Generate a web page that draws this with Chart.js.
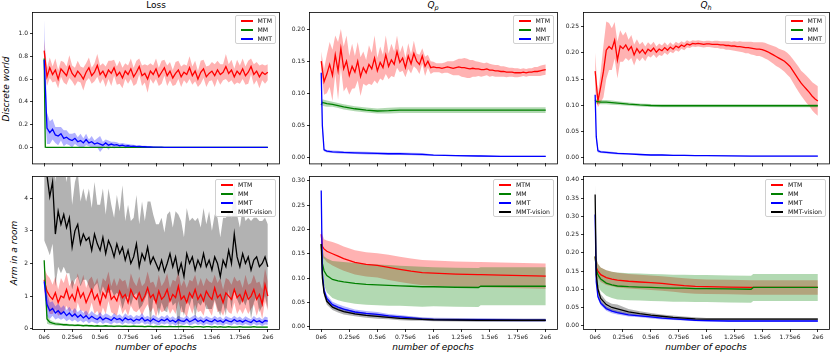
<!DOCTYPE html>
<html>
<head>
<meta charset="utf-8">
<script src="https://cdn.jsdelivr.net/npm/chart.js@4.4.1/dist/chart.umd.min.js"></script>
<style>
  html, body { margin: 0; padding: 0; background: #fff; }
  body { width: 830px; height: 353px; position: relative; overflow: hidden; font-family: "DejaVu Sans", sans-serif; color: #000; }
  canvas { position: absolute; }
  .title { position: absolute; top: 0; font-size: 9px; line-height: 10px; white-space: nowrap; transform: translateX(-50%); }
  .title sub { font-size: 6.5px; vertical-align: -2px; }
  .ylab { position: absolute; font-size: 9px; font-style: italic; white-space: nowrap; transform: translate(-50%, -50%) rotate(-90deg); }
  .xlab { position: absolute; top: 342px; font-size: 9px; line-height: 11px; font-style: italic; white-space: nowrap; transform: translateX(-50%); }
  .legend { position: absolute; background: rgba(255,255,255,0.85); border: 1px solid #d0d0d0; border-radius: 2px; padding: 0 3px 0 5px; font-size: 6.2px; color: #111; }
  .legend div { position: relative; height: 9px; line-height: 9px; padding-left: 17px; white-space: nowrap; }
  .legend span { position: absolute; left: 0; top: 4px; width: 12px; height: 1px; border-bottom: 0.5px solid transparent; }
</style>
</head>
<body>

<div class="title" style="left:156px">Loss</div>
<div class="title" style="left:433px"><i>Q</i><sub><i>p</i></sub></div>
<div class="title" style="left:706px"><i>Q</i><sub><i>h</i></sub></div>

<div class="ylab" style="left:5.5px; top:88.5px">Discrete world</div>
<div class="ylab" style="left:13.5px; top:253px">Arm in a room</div>

<div class="xlab" style="left:156px">number of epochs</div>
<div class="xlab" style="left:433px">number of epochs</div>
<div class="xlab" style="left:706px">number of epochs</div>

<script>
// x positions, in millions of epochs
const EPOCHS = [
  0, 0.025, 0.05, 0.075, 0.1, 0.125, 0.15, 0.175, 0.2, 0.225,
  0.25, 0.275, 0.3, 0.325, 0.35, 0.375, 0.4, 0.425, 0.45, 0.475,
  0.5, 0.525, 0.55, 0.575, 0.6, 0.625, 0.65, 0.675, 0.7, 0.725,
  0.75, 0.775, 0.8, 0.825, 0.85, 0.875, 0.9, 0.925, 0.95, 0.975,
  1, 1.025, 1.05, 1.075, 1.1, 1.125, 1.15, 1.175, 1.2, 1.225,
  1.25, 1.275, 1.3, 1.325, 1.35, 1.375, 1.4, 1.425, 1.45, 1.475,
  1.5, 1.525, 1.55, 1.575, 1.6, 1.625, 1.65, 1.675, 1.7, 1.725,
  1.75, 1.775, 1.8, 1.825, 1.85, 1.875, 1.9, 1.925, 1.95, 1.975,
  2
];
// coarser x positions for the smooth curves
const EPOCHS_SMOOTH = [0, 0.01, 0.025, 0.05, 0.1, 0.15, 0.2, 0.3, 0.4, 0.5, 0.6, 0.7, 0.8, 0.9, 1.0, 1.2, 1.4, 1.42, 1.6, 1.8, 2.0];

const X_TICKS = [0, 0.25, 0.5, 0.75, 1, 1.25, 1.5, 1.75, 2];
const X_TICK_LABELS = ['0e6', '0.25e6', '0.5e6', '0.75e6', '1e6', '1.25e6', '1.5e6', '1.75e6', '2e6'];

const SERIES_NAMES = ['MTM', 'MM', 'MMT', 'MMT-vision'];

// ---- Discrete world: Loss
const LOSS_DW_TICKS = [0, 0.2, 0.4, 0.6, 0.8, 1.0];
const LOSS_DW_MTM = [
  0.85, 0.62, 0.70, 0.64, 0.68, 0.60, 0.69, 0.66, 0.63, 0.71,
  0.65, 0.62, 0.67, 0.64, 0.60, 0.66, 0.70, 0.63, 0.66, 0.72,
  0.64, 0.67, 0.62, 0.68, 0.65, 0.70, 0.63, 0.66, 0.61, 0.67,
  0.64, 0.69, 0.62, 0.66, 0.71, 0.63, 0.65, 0.60, 0.67, 0.64,
  0.69, 0.62, 0.66, 0.70, 0.63, 0.67, 0.61, 0.65, 0.68, 0.62,
  0.66, 0.64, 0.70, 0.63, 0.67, 0.60, 0.66, 0.69, 0.62, 0.65,
  0.67, 0.63, 0.68, 0.64, 0.66, 0.71, 0.65, 0.68, 0.62, 0.67,
  0.64, 0.69, 0.63, 0.66, 0.71, 0.64, 0.67, 0.62, 0.66, 0.64,
  0.66
];
const LOSS_DW_MTM_SD = [
  0.10, 0.08, 0.09, 0.07, 0.10, 0.08, 0.07, 0.09, 0.08, 0.10,
  0.07, 0.08, 0.09, 0.07, 0.10, 0.08, 0.09, 0.07, 0.08, 0.10,
  0.08, 0.07, 0.09, 0.08, 0.11, 0.07, 0.08, 0.10, 0.09, 0.07,
  0.08, 0.09, 0.08, 0.10, 0.07, 0.09, 0.08, 0.12, 0.07, 0.08,
  0.09, 0.08, 0.10, 0.07, 0.09, 0.08, 0.07, 0.10, 0.08, 0.09,
  0.07, 0.08, 0.10, 0.08, 0.09, 0.07, 0.10, 0.08, 0.09, 0.07,
  0.08, 0.10, 0.08, 0.09, 0.07, 0.11, 0.08, 0.09, 0.07, 0.10,
  0.08, 0.09, 0.08, 0.10, 0.07, 0.09, 0.08, 0.10, 0.07, 0.08,
  0.07
];
const LOSS_DW_MM = [0.78, 0.003, 0.001, 0, 0, 0, 0, 0, 0, 0, 0, 0, 0, 0, 0, 0, 0, 0, 0, 0, 0];
const LOSS_DW_MM_SD = [0.03, 0.003, 0.001, 0.001, 0.001, 0.001, 0.001, 0.001, 0.001, 0.001, 0.001, 0.001, 0.001, 0.001, 0.001, 0.001, 0.001, 0.001, 0.001, 0.001, 0.001];
const LOSS_DW_MMT = [
  0.77, 0.17, 0.13, 0.16, 0.11, 0.10, 0.12, 0.08, 0.09, 0.07,
  0.06, 0.08, 0.05, 0.06, 0.04, 0.07, 0.04, 0.05, 0.03, 0.04,
  0.03, 0.02, 0.04, 0.02, 0.03, 0.02, 0.025, 0.015, 0.02, 0.012,
  0.015, 0.01, 0.012, 0.008, 0.01, 0.006, 0.006, 0.004, 0.004, 0.003,
  0.002, 0.002, 0.002, 0.001, 0.001, 0.001, 0.001, 0.001, 0.001, 0.001,
  0, 0, 0, 0, 0, 0, 0, 0, 0, 0,
  0, 0, 0, 0, 0, 0, 0, 0, 0, 0,
  0, 0, 0, 0, 0, 0, 0, 0, 0, 0,
  0
];
const LOSS_DW_MMT_SD = [
  0.35, 0.14, 0.10, 0.09, 0.07, 0.08, 0.06, 0.07, 0.06, 0.05,
  0.06, 0.05, 0.04, 0.06, 0.04, 0.05, 0.03, 0.05, 0.03, 0.04,
  0.07, 0.03, 0.03, 0.04, 0.02, 0.03, 0.02, 0.02, 0.02, 0.02,
  0.015, 0.015, 0.012, 0.012, 0.01, 0.01, 0.008, 0.008, 0.006, 0.005,
  0.004, 0.003, 0.003, 0.003, 0.003, 0.002, 0.002, 0.002, 0.002, 0.002,
  0.002, 0.002, 0.002, 0.002, 0.002, 0.002, 0.002, 0.002, 0.002, 0.002,
  0.002, 0.002, 0.002, 0.002, 0.002, 0.002, 0.002, 0.002, 0.002, 0.002,
  0.002, 0.002, 0.002, 0.002, 0.002, 0.002, 0.002, 0.002, 0.002, 0.002,
  0.002
];

// ---- Discrete world: Qp
const QP_DW_TICKS = [0, 0.05, 0.10, 0.15, 0.20];
const QP_DW_MTM = [
  0.150, 0.118, 0.130, 0.145, 0.128, 0.160, 0.135, 0.170, 0.138, 0.150,
  0.128, 0.142, 0.133, 0.150, 0.126, 0.140, 0.132, 0.145, 0.138, 0.155,
  0.135, 0.148, 0.140, 0.160, 0.142, 0.152, 0.145, 0.165, 0.148, 0.155,
  0.140, 0.158, 0.146, 0.162, 0.150, 0.145, 0.158, 0.142, 0.150, 0.140,
  0.141, 0.140, 0.140, 0.139, 0.140, 0.141, 0.140, 0.139, 0.140, 0.141,
  0.140, 0.140, 0.139, 0.138, 0.139, 0.138, 0.138, 0.137, 0.137, 0.138,
  0.136, 0.136, 0.135, 0.135, 0.134, 0.134, 0.133, 0.133, 0.133, 0.132,
  0.132, 0.132, 0.133, 0.132, 0.133, 0.133, 0.134, 0.134, 0.135, 0.136,
  0.137
];
const QP_DW_MTM_SD = [
  0.015, 0.02, 0.03, 0.035, 0.04, 0.03, 0.045, 0.03, 0.035, 0.04,
  0.03, 0.035, 0.025, 0.03, 0.03, 0.025, 0.02, 0.03, 0.025, 0.035,
  0.02, 0.025, 0.02, 0.03, 0.02, 0.025, 0.02, 0.025, 0.015, 0.02,
  0.015, 0.02, 0.015, 0.02, 0.012, 0.015, 0.012, 0.015, 0.01, 0.01,
  0.008, 0.007, 0.007, 0.008, 0.008, 0.009, 0.01, 0.011, 0.012, 0.013,
  0.014, 0.015, 0.015, 0.014, 0.013, 0.012, 0.011, 0.011, 0.01, 0.01,
  0.01, 0.009, 0.009, 0.009, 0.008, 0.008, 0.008, 0.007, 0.007, 0.007,
  0.007, 0.006, 0.006, 0.006, 0.006, 0.006, 0.007, 0.007, 0.008, 0.008,
  0.008
];
const QP_DW_MM = [0.082, 0.086, 0.085, 0.084, 0.083, 0.081, 0.079, 0.076, 0.074, 0.0725, 0.073, 0.074, 0.074, 0.074, 0.074, 0.074, 0.074, 0.074, 0.074, 0.074, 0.074];
const QP_DW_MM_SD = [0.005, 0.005, 0.005, 0.005, 0.004, 0.004, 0.004, 0.004, 0.004, 0.004, 0.0045, 0.0045, 0.0045, 0.0045, 0.0045, 0.0045, 0.0045, 0.0045, 0.0045, 0.0045, 0.0045];
const QP_DW_MMT = [0.132, 0.05, 0.012, 0.010, 0.009, 0.0085, 0.008, 0.0075, 0.007, 0.0065, 0.006, 0.006, 0.0055, 0.005, 0.004, 0.003, 0.0025, 0.0025, 0.002, 0.002, 0.002];
const QP_DW_MMT_SD = [0.03, 0.01, 0.002, 0.002, 0.002, 0.002, 0.002, 0.002, 0.002, 0.002, 0.002, 0.002, 0.002, 0.002, 0.001, 0.001, 0.001, 0.001, 0.001, 0.001, 0.001];

// ---- Discrete world: Qh
const QH_DW_TICKS = [0, 0.05, 0.10, 0.15, 0.20, 0.25];
const QH_DW_MTM = [
  0.165, 0.108, 0.135, 0.165, 0.205, 0.212, 0.207, 0.224, 0.186, 0.213,
  0.208, 0.215, 0.205, 0.212, 0.196, 0.208, 0.200, 0.206, 0.198, 0.207,
  0.203, 0.209, 0.201, 0.207, 0.204, 0.210, 0.205, 0.211, 0.207, 0.213,
  0.210, 0.215, 0.212, 0.217, 0.215, 0.218, 0.217, 0.218, 0.217, 0.216,
  0.217, 0.217, 0.216, 0.216, 0.216, 0.215, 0.215, 0.214, 0.214, 0.213,
  0.213, 0.212, 0.212, 0.211, 0.210, 0.210, 0.209, 0.208, 0.207, 0.207,
  0.206, 0.204, 0.202, 0.199, 0.196, 0.193, 0.190, 0.187, 0.184, 0.179,
  0.174, 0.166, 0.158, 0.150, 0.142, 0.136, 0.130, 0.124, 0.117, 0.112,
  0.108
];
const QH_DW_MTM_SD = [
  0.035, 0.012, 0.03, 0.05, 0.055, 0.045, 0.04, 0.035, 0.035, 0.03,
  0.025, 0.025, 0.02, 0.022, 0.02, 0.018, 0.016, 0.015, 0.014, 0.013,
  0.012, 0.012, 0.011, 0.011, 0.01, 0.01, 0.009, 0.009, 0.008, 0.008,
  0.008, 0.007, 0.007, 0.007, 0.006, 0.006, 0.006, 0.006, 0.006, 0.006,
  0.006, 0.006, 0.006, 0.007, 0.007, 0.007, 0.007, 0.008, 0.008, 0.008,
  0.009, 0.009, 0.01, 0.01, 0.011, 0.011, 0.012, 0.012, 0.013, 0.013,
  0.014, 0.015, 0.015, 0.016, 0.017, 0.018, 0.018, 0.019, 0.02, 0.021,
  0.021, 0.022, 0.023, 0.024, 0.024, 0.025, 0.026, 0.026, 0.027, 0.028,
  0.028
];
const QH_DW_MM = [0.110, 0.107, 0.107, 0.106, 0.106, 0.105, 0.104, 0.102, 0.1005, 0.0995, 0.099, 0.099, 0.099, 0.099, 0.099, 0.099, 0.099, 0.099, 0.099, 0.099, 0.099];
const QH_DW_MM_SD = [0.004, 0.004, 0.004, 0.004, 0.004, 0.004, 0.0035, 0.003, 0.003, 0.003, 0.003, 0.003, 0.003, 0.003, 0.003, 0.003, 0.003, 0.003, 0.003, 0.003, 0.003];
const QH_DW_MMT = [0.12, 0.04, 0.013, 0.011, 0.010, 0.009, 0.008, 0.007, 0.006, 0.005, 0.005, 0.0045, 0.0045, 0.004, 0.004, 0.0035, 0.003, 0.003, 0.003, 0.003, 0.003];
const QH_DW_MMT_SD = [0.02, 0.01, 0.003, 0.002, 0.002, 0.002, 0.002, 0.0015, 0.0015, 0.0015, 0.0015, 0.001, 0.001, 0.001, 0.001, 0.001, 0.001, 0.001, 0.001, 0.001, 0.001];

// ---- Arm in a room: Loss
const LOSS_ARM_TICKS = [0, 1, 2, 3, 4];
const LOSS_ARM_MTM = [
  1.5, 1.15, 1.0, 0.9, 1.1, 0.8, 1.0, 0.95, 1.2, 0.9,
  1.05, 0.85, 1.25, 0.95, 1.1, 0.8, 1.0, 1.2, 0.9, 1.05,
  0.75, 1.1, 0.95, 1.3, 0.9, 1.0, 0.85, 1.15, 0.95, 1.05,
  0.8, 1.2, 1.0, 0.9, 1.1, 0.85, 1.0, 1.25, 0.95, 1.05,
  0.8, 1.15, 0.9, 1.0, 1.2, 0.85, 1.05, 0.95, 1.3, 0.9,
  1.0, 0.8, 1.1, 0.95, 1.2, 0.9, 1.05, 0.85, 1.15, 1.0,
  0.9, 1.25, 0.95, 1.05, 0.8, 1.1, 1.0, 0.9, 1.2, 0.95,
  1.05, 0.85, 1.15, 0.9, 1.0, 1.2, 0.9, 1.05, 0.75, 1.35,
  1.0
];
const LOSS_ARM_MTM_SD = [
  0.35, 0.5, 0.55, 0.45, 0.5, 0.4, 0.55, 0.45, 0.5, 0.4,
  0.45, 0.5, 0.45, 0.4, 0.55, 0.45, 0.5, 0.4, 0.45, 0.5,
  0.4, 0.45, 0.5, 0.45, 0.4, 0.55, 0.45, 0.4, 0.5, 0.45,
  0.4, 0.5, 0.45, 0.4, 0.5, 0.45, 0.4, 0.5, 0.45, 0.4,
  0.45, 0.5, 0.4, 0.45, 0.5, 0.4, 0.45, 0.5, 0.45, 0.4,
  0.5, 0.45, 0.4, 0.5, 0.45, 0.4, 0.5, 0.45, 0.4, 0.45,
  0.5, 0.4, 0.45, 0.5, 0.4, 0.45, 0.5, 0.45, 0.4, 0.5,
  0.45, 0.4, 0.5, 0.45, 0.4, 0.45, 0.5, 0.4, 0.45, 0.5,
  0.45
];
const LOSS_ARM_MM = [
  2.1, 0.3, 0.2, 0.17, 0.15, 0.14, 0.13, 0.12, 0.12, 0.11,
  0.11, 0.10, 0.11, 0.10, 0.09, 0.10, 0.09, 0.09, 0.08, 0.09,
  0.08, 0.08, 0.09, 0.08, 0.08, 0.07, 0.08, 0.08, 0.07, 0.08,
  0.07, 0.07, 0.08, 0.07, 0.07, 0.07, 0.06, 0.07, 0.07, 0.06,
  0.07, 0.06, 0.07, 0.06, 0.06, 0.07, 0.06, 0.06, 0.06, 0.07,
  0.06, 0.06, 0.06, 0.05, 0.06, 0.06, 0.06, 0.05, 0.06, 0.06,
  0.05, 0.06, 0.05, 0.06, 0.05, 0.05, 0.06, 0.05, 0.05, 0.05,
  0.06, 0.05, 0.05, 0.05, 0.05, 0.06, 0.05, 0.05, 0.05, 0.05,
  0.05
];
const LOSS_ARM_MM_SD = [
  0.1, 0.15, 0.08, 0.06, 0.05, 0.05, 0.04, 0.04, 0.04, 0.035,
  0.035, 0.03, 0.035, 0.03, 0.03, 0.03, 0.03, 0.03, 0.025, 0.03,
  0.025, 0.025, 0.025, 0.025, 0.025, 0.025, 0.025, 0.025, 0.025, 0.025,
  0.025, 0.025, 0.025, 0.025, 0.025, 0.025, 0.025, 0.025, 0.025, 0.025,
  0.02, 0.02, 0.02, 0.02, 0.02, 0.02, 0.02, 0.02, 0.02, 0.02,
  0.02, 0.02, 0.02, 0.02, 0.02, 0.02, 0.02, 0.02, 0.02, 0.02,
  0.02, 0.02, 0.02, 0.02, 0.02, 0.02, 0.02, 0.02, 0.02, 0.02,
  0.02, 0.02, 0.02, 0.02, 0.02, 0.02, 0.02, 0.02, 0.02, 0.02,
  0.02
];
const LOSS_ARM_MMT = [
  1.45, 0.75, 0.55, 0.62, 0.48, 0.55, 0.45, 0.52, 0.40, 0.48,
  0.38, 0.45, 0.35, 0.42, 0.33, 0.40, 0.30, 0.38, 0.32, 0.28,
  0.36, 0.27, 0.33, 0.30, 0.25, 0.34, 0.28, 0.31, 0.24, 0.33,
  0.27, 0.30, 0.23, 0.29, 0.26, 0.34, 0.24, 0.28, 0.22, 0.30,
  0.25, 0.21, 0.28, 0.24, 0.30, 0.22, 0.26, 0.20, 0.28, 0.24,
  0.22, 0.29, 0.21, 0.25, 0.30, 0.22, 0.26, 0.20, 0.27, 0.23,
  0.21, 0.28, 0.22, 0.25, 0.19, 0.27, 0.23, 0.21, 0.28, 0.22,
  0.25, 0.20, 0.26, 0.22, 0.19, 0.27, 0.21, 0.24, 0.18, 0.25,
  0.23
];
const LOSS_ARM_MMT_SD = [
  0.3, 0.35, 0.25, 0.22, 0.2, 0.22, 0.18, 0.2, 0.17, 0.19,
  0.16, 0.18, 0.15, 0.17, 0.15, 0.16, 0.14, 0.16, 0.14, 0.13,
  0.15, 0.13, 0.14, 0.13, 0.12, 0.14, 0.12, 0.13, 0.12, 0.14,
  0.12, 0.13, 0.11, 0.13, 0.12, 0.14, 0.11, 0.12, 0.11, 0.13,
  0.12, 0.11, 0.12, 0.11, 0.13, 0.11, 0.12, 0.11, 0.12, 0.11,
  0.11, 0.12, 0.11, 0.12, 0.13, 0.11, 0.12, 0.11, 0.12, 0.11,
  0.11, 0.12, 0.11, 0.12, 0.1, 0.12, 0.11, 0.11, 0.12, 0.11,
  0.12, 0.1, 0.12, 0.11, 0.1, 0.12, 0.11, 0.11, 0.1, 0.12,
  0.11
];
const LOSS_ARM_VISION = [
  5.2, 4.7, 4.05, 4.5, 2.9, 3.6, 3.2, 3.5, 3.1, 3.4,
  2.5, 3.0, 3.2, 2.6, 2.9, 2.7, 2.8, 2.4, 2.9, 2.6,
  2.4, 2.8, 2.3, 2.7, 2.5, 2.2, 2.6, 2.3, 2.5, 2.1,
  2.4, 2.0, 2.2, 2.6, 1.9, 2.3, 2.1, 2.5, 2.0, 2.2,
  2.0, 1.8, 2.1, 1.75, 2.0, 2.3, 1.9, 2.2, 1.7, 2.0,
  1.6, 2.3, 2.0, 2.2, 1.8, 2.1, 1.9, 2.3, 1.9, 2.1,
  1.8, 2.2, 2.0, 1.6, 2.1, 1.9, 2.4, 2.0, 2.9, 2.2,
  1.9, 2.3, 2.0, 2.2, 1.8, 2.1, 2.2, 1.9, 2.0, 2.2,
  1.9
];
const LOSS_ARM_VISION_SD = [
  2.5, 2.2, 1.8, 1.9, 1.6, 1.7, 1.5, 1.6, 1.4, 1.7,
  1.3, 1.5, 1.6, 1.3, 1.4, 1.2, 1.5, 1.3, 1.6, 1.2,
  1.4, 1.5, 1.2, 1.6, 1.3, 1.2, 1.5, 1.3, 1.9, 1.2,
  1.4, 1.3, 1.2, 1.5, 1.3, 1.6, 1.2, 1.4, 1.9, 1.3,
  1.2, 1.4, 1.3, 1.2, 1.5, 1.3, 1.2, 1.4, 1.8, 1.3,
  1.2, 1.4, 1.3, 1.2, 1.5, 1.3, 1.2, 1.4, 1.3, 1.5,
  1.2, 1.3, 1.4, 1.2, 1.3, 1.5, 1.2, 1.4, 1.7, 1.3,
  1.2, 1.4, 1.3, 1.2, 1.5, 1.3, 1.2, 1.4, 1.3, 1.2,
  1.3
];

// ---- Arm in a room: Qp
const QP_ARM_TICKS = [0, 0.05, 0.10, 0.15, 0.20, 0.25, 0.30];
const QP_ARM_MTM = [0.19, 0.165, 0.16, 0.155, 0.15, 0.145, 0.14, 0.132, 0.128, 0.126, 0.122, 0.118, 0.114, 0.111, 0.110, 0.108, 0.107, 0.107, 0.106, 0.105, 0.104];
const QP_ARM_MTM_SD = [0.03, 0.025, 0.02, 0.022, 0.024, 0.025, 0.025, 0.025, 0.025, 0.025, 0.026, 0.026, 0.026, 0.026, 0.026, 0.026, 0.026, 0.026, 0.026, 0.026, 0.026];
const QP_ARM_MM = [0.17, 0.13, 0.115, 0.105, 0.097, 0.094, 0.092, 0.089, 0.087, 0.086, 0.085, 0.084, 0.083, 0.082, 0.082, 0.081, 0.0805, 0.083, 0.083, 0.083, 0.083];
const QP_ARM_MM_SD = [0.03, 0.03, 0.03, 0.035, 0.038, 0.04, 0.041, 0.042, 0.042, 0.042, 0.042, 0.041, 0.041, 0.041, 0.04, 0.04, 0.04, 0.039, 0.039, 0.039, 0.039];
const QP_ARM_MMT = [0.28, 0.11, 0.075, 0.058, 0.045, 0.04, 0.036, 0.03, 0.027, 0.025, 0.022, 0.02, 0.018, 0.016, 0.015, 0.0145, 0.014, 0.014, 0.0135, 0.013, 0.013];
const QP_ARM_MMT_SD = [0.01, 0.01, 0.008, 0.007, 0.006, 0.006, 0.006, 0.005, 0.005, 0.005, 0.004, 0.004, 0.003, 0.003, 0.003, 0.003, 0.003, 0.003, 0.003, 0.003, 0.003];
const QP_ARM_VISION = [0.17, 0.10, 0.07, 0.052, 0.04, 0.035, 0.031, 0.026, 0.023, 0.021, 0.019, 0.017, 0.016, 0.015, 0.014, 0.0135, 0.013, 0.013, 0.013, 0.013, 0.013];
const QP_ARM_VISION_SD = [0.01, 0.008, 0.007, 0.007, 0.006, 0.006, 0.006, 0.005, 0.005, 0.005, 0.004, 0.004, 0.004, 0.003, 0.003, 0.003, 0.003, 0.003, 0.003, 0.003, 0.003];

// ---- Arm in a room: Qh
const QH_ARM_TICKS = [0, 0.05, 0.10, 0.15, 0.20, 0.25, 0.30, 0.35, 0.40];
const QH_ARM_MTM = [0.19, 0.16, 0.15, 0.14, 0.132, 0.128, 0.125, 0.122, 0.12, 0.118, 0.116, 0.113, 0.11, 0.108, 0.107, 0.106, 0.105, 0.105, 0.105, 0.105, 0.105];
const QH_ARM_MTM_SD = [0.03, 0.025, 0.02, 0.02, 0.02, 0.02, 0.02, 0.02, 0.02, 0.02, 0.02, 0.02, 0.02, 0.02, 0.02, 0.02, 0.02, 0.02, 0.02, 0.02, 0.02];
const QH_ARM_MM = [0.19, 0.155, 0.14, 0.128, 0.117, 0.112, 0.109, 0.107, 0.106, 0.105, 0.104, 0.103, 0.103, 0.102, 0.102, 0.101, 0.100, 0.105, 0.105, 0.105, 0.105];
const QH_ARM_MM_SD = [0.03, 0.03, 0.03, 0.032, 0.035, 0.036, 0.037, 0.037, 0.037, 0.037, 0.037, 0.037, 0.037, 0.037, 0.037, 0.037, 0.037, 0.037, 0.037, 0.037, 0.037];
const QH_ARM_MMT = [0.305, 0.12, 0.08, 0.062, 0.047, 0.04, 0.036, 0.03, 0.027, 0.024, 0.021, 0.019, 0.017, 0.015, 0.014, 0.013, 0.013, 0.013, 0.013, 0.013, 0.013];
const QH_ARM_MMT_SD = [0.01, 0.008, 0.007, 0.006, 0.006, 0.006, 0.005, 0.005, 0.004, 0.004, 0.004, 0.003, 0.003, 0.003, 0.003, 0.003, 0.003, 0.003, 0.003, 0.003, 0.003];
const QH_ARM_VISION = [0.36, 0.14, 0.1, 0.075, 0.058, 0.05, 0.046, 0.038, 0.033, 0.029, 0.026, 0.023, 0.021, 0.019, 0.018, 0.018, 0.018, 0.018, 0.018, 0.018, 0.018];
const QH_ARM_VISION_SD = [0.03, 0.02, 0.015, 0.012, 0.01, 0.01, 0.012, 0.008, 0.007, 0.006, 0.005, 0.005, 0.004, 0.004, 0.003, 0.003, 0.003, 0.003, 0.003, 0.003, 0.003];

// line colour and band colour per series
const COLORS = ['#ff0000', '#008000', '#0000ff', '#000000'];
const BANDS = ['rgba(255,0,0,0.3)', 'rgba(0,128,0,0.3)', 'rgba(0,0,255,0.3)', 'rgba(0,0,0,0.3)'];

const FONT = '"DejaVu Sans", sans-serif';
const AXIS_W = 32;   // room for y tick labels
const PAD = 8;

// Draw the four spines like matplotlib does
const framePlugin = {
    id: 'frame',
    afterDraw: function(chart) {
        var a = chart.chartArea;
        var ctx = chart.ctx;
        ctx.save();
        ctx.strokeStyle = '#000';
        ctx.lineWidth = 0.8;
        ctx.strokeRect(a.left - 0.5, a.top - 0.5, a.right - a.left + 1, a.bottom - a.top + 1);
        ctx.restore();
    }
};

/**
 * Build one subplot
 * @param {object} p panel description
 */
function makePanel(p) {
    var xh = p.xLabels ? 18 : 5;
    var canvas = document.createElement('canvas');
    canvas.width = p.box.width + AXIS_W + PAD;
    canvas.height = p.box.height + PAD + xh;
    canvas.style.left = (p.box.left - AXIS_W) + 'px';
    canvas.style.top = (p.box.top - PAD) + 'px';
    document.body.appendChild(canvas);

    // bands: lower edge, upper edge filled to lower, then the mean line
    var datasets = [];
    p.series.forEach(function(s, k) {
        datasets.push({
            data: s.x.map(function(x, i) { return {x: x, y: s.mean[i] - s.sd[i]}; }),
            borderWidth: 0, borderColor: 'rgba(0,0,0,0)', pointRadius: 0, fill: false,
            order: 40 - 10 * k
        });
        datasets.push({
            data: s.x.map(function(x, i) { return {x: x, y: s.mean[i] + s.sd[i]}; }),
            borderWidth: 0, borderColor: 'rgba(0,0,0,0)', pointRadius: 0,
            fill: '-1', backgroundColor: BANDS[k],
            order: 40 - 10 * k
        });
        datasets.push({
            label: SERIES_NAMES[k],
            data: s.x.map(function(x, i) { return {x: x, y: s.mean[i]}; }),
            borderColor: COLORS[k], borderWidth: 1.3, pointRadius: 0, fill: false,
            order: 9 - k
        });
    });

    var tickGrid = {drawOnChartArea: false, drawTicks: true, tickLength: 3, color: '#000', lineWidth: 0.8};

    new Chart(canvas, {
        type: 'line',
        data: {datasets: datasets},
        plugins: [framePlugin],
        options: {
            responsive: false,
            animation: false,
            devicePixelRatio: 1,
            layout: {padding: {top: PAD, right: PAD, left: 0, bottom: 0}},
            elements: {line: {tension: 0}},
            plugins: {
                legend: {display: false},
                tooltip: {enabled: false},
                filler: {drawTime: 'beforeDatasetsDraw'}
            },
            scales: {
                x: {
                    type: 'linear', min: -0.1, max: 2.1,
                    afterBuildTicks: function(s) { s.ticks = X_TICKS.map(function(v) { return {value: v}; }); },
                    afterFit: function(s) { s.height = xh; },
                    grid: tickGrid,
                    border: {display: false},
                    ticks: {
                        display: p.xLabels, autoSkip: false, maxRotation: 0, padding: 2,
                        color: '#222', font: {family: FONT, size: 6},
                        callback: function(v, i) { return X_TICK_LABELS[i]; }
                    }
                },
                y: {
                    type: 'linear', min: p.yMin, max: p.yMax,
                    afterBuildTicks: function(s) { s.ticks = p.yTicks.map(function(v) { return {value: v}; }); },
                    afterFit: function(s) { s.width = AXIS_W; },
                    grid: tickGrid,
                    border: {display: false},
                    ticks: {
                        padding: 2, color: '#222', font: {family: FONT, size: 6},
                        callback: function(v, i) { return p.yTicks[i].toFixed(p.digits); }
                    }
                }
            }
        }
    });

    // Legend box in the upper right corner
    var leg = document.createElement('div');
    leg.className = 'legend';
    leg.style.right = Math.round(830 - (p.box.left + p.box.width) + 2.5) + 'px';
    leg.style.top = Math.round(p.box.top + 2) + 'px';
    p.series.forEach(function(s, k) {
        var row = document.createElement('div');
        row.innerHTML = '<span style="background-color:' + COLORS[k] + '"></span>' + SERIES_NAMES[k];
        leg.appendChild(row);
    });
    document.body.appendChild(leg);
}

const TOP = {top: 13, height: 151};
const BOTTOM = {top: 177, height: 152};
const COLS = [{left: 33, width: 246}, {left: 310, width: 247}, {left: 584, width: 245}];

function box(row, col) {
    return {left: COLS[col].left, width: COLS[col].width, top: row.top, height: row.height};
}

makePanel({
    box: box(TOP, 0), yMin: -0.14, yMax: 1.18, yTicks: LOSS_DW_TICKS, digits: 1, xLabels: false,
    series: [
        {x: EPOCHS, mean: LOSS_DW_MTM, sd: LOSS_DW_MTM_SD},
        {x: EPOCHS_SMOOTH, mean: LOSS_DW_MM, sd: LOSS_DW_MM_SD},
        {x: EPOCHS, mean: LOSS_DW_MMT, sd: LOSS_DW_MMT_SD}
    ]
});
makePanel({
    box: box(TOP, 1), yMin: -0.009, yMax: 0.225, yTicks: QP_DW_TICKS, digits: 2, xLabels: false,
    series: [
        {x: EPOCHS, mean: QP_DW_MTM, sd: QP_DW_MTM_SD},
        {x: EPOCHS_SMOOTH, mean: QP_DW_MM, sd: QP_DW_MM_SD},
        {x: EPOCHS_SMOOTH, mean: QP_DW_MMT, sd: QP_DW_MMT_SD}
    ]
});
makePanel({
    box: box(TOP, 2), yMin: -0.011, yMax: 0.276, yTicks: QH_DW_TICKS, digits: 2, xLabels: false,
    series: [
        {x: EPOCHS, mean: QH_DW_MTM, sd: QH_DW_MTM_SD},
        {x: EPOCHS_SMOOTH, mean: QH_DW_MM, sd: QH_DW_MM_SD},
        {x: EPOCHS_SMOOTH, mean: QH_DW_MMT, sd: QH_DW_MMT_SD}
    ]
});
makePanel({
    box: box(BOTTOM, 0), yMin: -0.01, yMax: 4.65, yTicks: LOSS_ARM_TICKS, digits: 0, xLabels: true,
    series: [
        {x: EPOCHS, mean: LOSS_ARM_MTM, sd: LOSS_ARM_MTM_SD},
        {x: EPOCHS, mean: LOSS_ARM_MM, sd: LOSS_ARM_MM_SD},
        {x: EPOCHS, mean: LOSS_ARM_MMT, sd: LOSS_ARM_MMT_SD},
        {x: EPOCHS, mean: LOSS_ARM_VISION, sd: LOSS_ARM_VISION_SD}
    ]
});
makePanel({
    box: box(BOTTOM, 1), yMin: -0.005, yMax: 0.308, yTicks: QP_ARM_TICKS, digits: 2, xLabels: true,
    series: [
        {x: EPOCHS_SMOOTH, mean: QP_ARM_MTM, sd: QP_ARM_MTM_SD},
        {x: EPOCHS_SMOOTH, mean: QP_ARM_MM, sd: QP_ARM_MM_SD},
        {x: EPOCHS_SMOOTH, mean: QP_ARM_MMT, sd: QP_ARM_MMT_SD},
        {x: EPOCHS_SMOOTH, mean: QP_ARM_VISION, sd: QP_ARM_VISION_SD}
    ]
});
makePanel({
    box: box(BOTTOM, 2), yMin: -0.009, yMax: 0.408, yTicks: QH_ARM_TICKS, digits: 2, xLabels: true,
    series: [
        {x: EPOCHS_SMOOTH, mean: QH_ARM_MTM, sd: QH_ARM_MTM_SD},
        {x: EPOCHS_SMOOTH, mean: QH_ARM_MM, sd: QH_ARM_MM_SD},
        {x: EPOCHS_SMOOTH, mean: QH_ARM_MMT, sd: QH_ARM_MMT_SD},
        {x: EPOCHS_SMOOTH, mean: QH_ARM_VISION, sd: QH_ARM_VISION_SD}
    ]
});
</script>
</body>
</html>
